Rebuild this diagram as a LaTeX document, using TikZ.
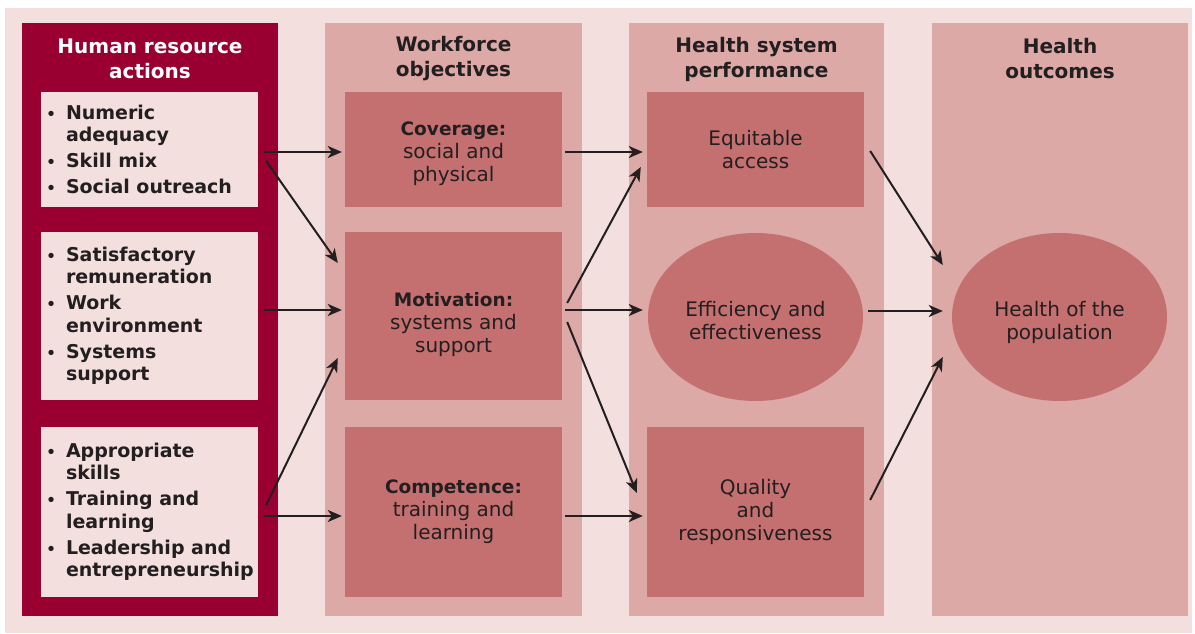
\documentclass[tikz,border=0pt]{standalone}
\usepackage{fontspec}
\setmainfont{DejaVu Sans}
\usetikzlibrary{calc,shapes.geometric,arrows.meta}
\definecolor{bgpink}{HTML}{F3E0DE}
\definecolor{colpink}{HTML}{DCA9A6}
\definecolor{boxred}{HTML}{C46F70}
\definecolor{hrred}{HTML}{990031}
\definecolor{inkdark}{HTML}{231F20}
\newcommand{\hrbul}{\leavevmode\llap{{\fontsize{15}{15}\selectfont\textbullet}\hspace{10pt}}}
\newcommand{\hrlist}[1]{\hspace*{22pt}\parbox{189pt}{\raggedright #1}}
\newcommand{\topgap}[1]{\rule{0pt}{#1}}
\begin{document}
\begin{tikzpicture}[x=1pt,y=-1pt,
    flow/.style={draw=inkdark,line width=2pt,-{Stealth[length=14pt,width=12pt,inset=4pt]}},
    colhead/.style={font=\fontsize{20}{25}\selectfont\bfseries,align=center,text=inkdark},
    hrbox/.style={fill=bgpink,inner xsep=3pt,minimum width=217pt,font=\fontsize{19}{22.5}\selectfont\bfseries,text=inkdark},
    objbox/.style={fill=boxred,minimum width=217pt,align=center,font=\fontsize{20}{23}\selectfont,text=inkdark},
    perfell/.style={ellipse,fill=boxred,minimum width=215pt,minimum height=168pt,inner sep=0pt,align=center,font=\fontsize{20}{23}\selectfont,text=inkdark}]
    % set background and columns
    \useasboundingbox (0,0) rectangle (1195,634);
    \fill[white] (0,0) rectangle (1195,634);
    \fill[bgpink] (5,8) rectangle (1192,633);
    \fill[hrred] (22,23) rectangle (278,616);
    \fill[colpink] (325,23) rectangle (582,616);
    \fill[colpink] (629,23) rectangle (884,616);
    \fill[colpink] (932,23) rectangle (1188,616);
    % add headers
    \node[colhead,text=white] (hrhead) at (150,59) {Human resource\\actions};
    \node[colhead] (objhead) at (453.5,59) {Workforce\\objectives};
    \node[colhead] (perfhead) at (756.5,59) {Health system\\performance};
    \node[colhead] (outhead) at (1060,59) {Health\\outcomes};
    % human resource actions
    \node[hrbox,minimum height=115pt] (hr1) at (149.5,149.5)
        {\hrlist{\hrbul Numeric\\adequacy\\[3.5pt]\hrbul Skill mix\\[3.5pt]\hrbul Social outreach}};
    \node[hrbox,minimum height=168pt] (hr2) at (149.5,316)
        {\hrlist{\hrbul Satisfactory\\remuneration\\[3.5pt]\hrbul Work\\environment\\[3.5pt]\hrbul Systems\\support}};
    \node[hrbox,minimum height=170pt] (hr3) at (149.5,512)
        {\hrlist{\hrbul Appropriate\\skills\\[3.5pt]\hrbul Training and\\learning\\[3.5pt]\hrbul Leadership and\\entrepreneurship}};
    % workforce objectives
    \node[objbox,minimum height=115pt] (obj1) at (453.5,149.5)
        {\topgap{22pt}{\fontsize{18.5}{23}\selectfont\bfseries Coverage:}\\social and\\physical};
    \node[objbox,minimum height=168pt] (obj2) at (453.5,316)
        {\topgap{32pt}{\fontsize{18.5}{23}\selectfont\bfseries Motivation:}\\systems and\\support};
    \node[objbox,minimum height=170pt] (obj3) at (453.5,512)
        {{\fontsize{18.5}{23}\selectfont\bfseries Competence:}\\training and\\learning};
    % health system performance
    \node[objbox,minimum height=115pt] (perf1) at (755.5,149.5) {Equitable\\access};
    \node[perfell] (perf2) at (755.5,317) {\topgap{23pt}Efficiency and\\effectiveness};
    \node[objbox,minimum height=170pt] (perf3) at (755.5,512) {Quality\\and\\responsiveness};
    % health outcomes
    \node[perfell] (out) at (1059.5,317) {\topgap{27pt}Health of the\\population};
    % draw arrows
    \draw[flow] ([shift={(6,2.5)}]hr1.east) -- ([shift={(-3,2.5)}]obj1.west);
    \draw[flow] ([shift={(8,11.5)}]hr1.east) -- ([shift={(-7,-53)}]obj2.west);
    \draw[flow] ([shift={(6,-6)}]hr2.east) -- ([shift={(-3,-6)}]obj2.west);
    \draw[flow] ([shift={(8,-7)}]hr3.east) -- ([shift={(-7,42)}]obj2.west);
    \draw[flow] ([shift={(6,4)}]hr3.east) -- ([shift={(-3,4)}]obj3.west);
    \draw[flow] ([shift={(3,2.5)}]obj1.east) -- ([shift={(-4,2.5)}]perf1.west);
    \draw[flow] ([shift={(5,-13)}]obj2.east) -- ([shift={(-6,17.5)}]perf1.west);
    \draw[flow] ([shift={(3,-6)}]obj2.east) -- ([shift={(-5,-7)}]perf2.west);
    \draw[flow] ([shift={(5,6)}]obj2.east) -- ([shift={(-10,-19)}]perf3.west);
    \draw[flow] ([shift={(3,4)}]obj3.east) -- ([shift={(-4,4)}]perf3.west);
    \draw[flow] ([shift={(6,1.5)}]perf1.east) -- ([shift={(-9,-52)}]out.west);
    \draw[flow] ([shift={(5,-6)}]perf2.east) -- ([shift={(-9,-6)}]out.west);
    \draw[flow] ([shift={(6,-12)}]perf3.east) -- ([shift={(-9,40)}]out.west);
\end{tikzpicture}
\end{document}
